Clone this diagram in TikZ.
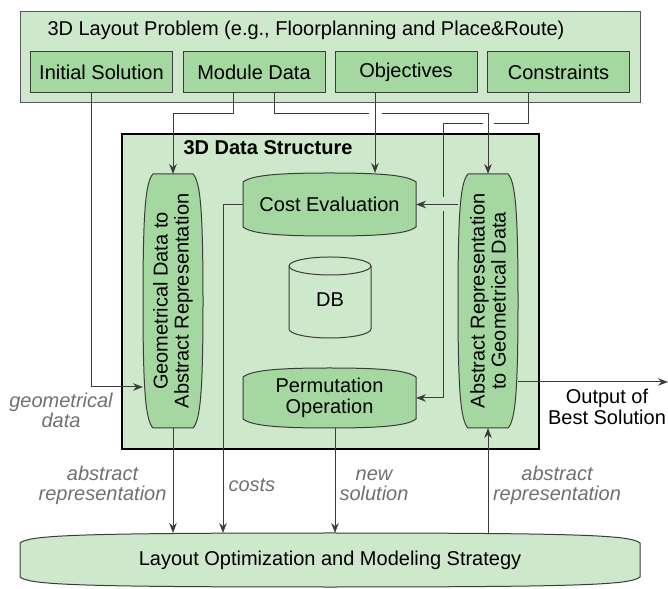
\documentclass[tikz,border=0pt]{standalone}
\usepackage{fontspec}
\setmainfont{Liberation Sans}
\usetikzlibrary{arrows.meta,calc}

\definecolor{pale}{HTML}{CDE8CA}
\definecolor{leaf}{HTML}{A4D8A0}
\definecolor{edge}{HTML}{3C3C3C}
\definecolor{labelgray}{HTML}{707070}

% drum, bulging top and bottom: [style]{node}{near ctrl}{far ctrl}{bulge}
\newcommand{\drumh}[5][greenshape]{%
  \path[#1] ([yshift=-#5]#2.north west)
    .. controls ($(#2.north west)!#3!(#2.north east)+(0,-0.25*#5)$) and ($(#2.north west)!#4!(#2.north east)$) .. (#2.north)
    .. controls ($(#2.north east)!#4!(#2.north west)$) and ($(#2.north east)!#3!(#2.north west)+(0,-0.25*#5)$) .. ([yshift=-#5]#2.north east)
    -- ([yshift=#5]#2.south east)
    .. controls ($(#2.south east)!#3!(#2.south west)+(0,0.25*#5)$) and ($(#2.south east)!#4!(#2.south west)$) .. (#2.south)
    .. controls ($(#2.south west)!#4!(#2.south east)$) and ($(#2.south west)!#3!(#2.south east)+(0,0.25*#5)$) .. ([yshift=#5]#2.south west) -- cycle;}
% drum, bulging sides
\newcommand{\drumv}[5][greenshape]{%
  \path[#1] ([xshift=#5]#2.north west)
    .. controls ($(#2.north west)!#3!(#2.south west)+(0.25*#5,0)$) and ($(#2.north west)!#4!(#2.south west)$) .. (#2.west)
    .. controls ($(#2.south west)!#4!(#2.north west)$) and ($(#2.south west)!#3!(#2.north west)+(0.25*#5,0)$) .. ([xshift=#5]#2.south west)
    -- ([xshift=-#5]#2.south east)
    .. controls ($(#2.south east)!#3!(#2.north east)+(-0.25*#5,0)$) and ($(#2.south east)!#4!(#2.north east)$) .. (#2.east)
    .. controls ($(#2.north east)!#4!(#2.south east)$) and ($(#2.north east)!#3!(#2.south east)+(-0.25*#5,0)$) .. ([xshift=-#5]#2.north east) -- cycle;}

\begin{document}
\begin{tikzpicture}[x=1pt,y=1pt,line width=1pt,
font=\fontsize{20}{21}\selectfont,
hold/.style={inner sep=0,outer sep=0,draw=none},
panel/.style={fill=pale,draw=edge!85},
item/.style={fill=leaf,draw=edge,minimum width=142,minimum height=41,inner sep=0},
frame/.style={fill=pale,draw=black,line width=2.5pt},
greenshape/.style={fill=leaf,draw=edge},
paleshape/.style={fill=pale,draw=edge},
txt/.style={inner sep=0,align=center},
remark/.style={txt,text=labelgray,font=\fontsize{20}{20}\selectfont\itshape},
wire/.style={draw=edge},
conn/.style={wire,-{Stealth[length=10pt,width=7.5pt]}},
]
\useasboundingbox (0,0) rectangle (668,588);

% layout problem
\node[hold,panel,minimum width=620,minimum height=91,anchor=north west] (prob) at (20,576) {};
\node[txt,anchor=base west] (probtitle) at (47,552) {3D Layout Problem (e.g., Floorplanning and Place\&Route)};
\node[item] (init) at (101.5,515.5) {Initial Solution};
\node[item] (mod) at (254,515.5) {Module Data};
\node[item] (obj) at (406,515.5) {Objectives};
\node[item] (con) at (558.5,515.5) {Constraints};

% data structure
\node[hold,frame,minimum width=417,minimum height=315] (ds) at (330.5,296.5) {};
\node[txt,anchor=base west,font=\fontsize{20}{21}\selectfont\bfseries] (dstitle) at (183,433) {3D Data Structure};

\node[hold,minimum width=173,minimum height=63] (cost) at (329.5,383.5) {};
\drumh{cost}{0.05}{0.2}{9}
\node[txt] (costtext) at (cost) {Cost Evaluation};

\node[hold,minimum width=173,minimum height=60] (perm) at (329.5,190) {};
\drumh{perm}{0.05}{0.2}{9}
\node[txt] (permtext) at (perm) {Permutation\\Operation};

\node[hold,minimum width=82,minimum height=81] (db) at (330,290.5) {};
\path[paleshape] ([yshift=-9]db.north west) -- ([yshift=9]db.south west)
  arc[start angle=180,end angle=360,x radius=41,y radius=9]
  -- ([yshift=-9]db.north east) arc[start angle=0,end angle=180,x radius=41,y radius=9] -- cycle;
\draw[wire] ([yshift=-9]db.north west) arc[start angle=180,end angle=360,x radius=41,y radius=9];
\node[txt] (dbtext) at ([yshift=-2.5]db.center) {DB};

\node[hold,minimum width=60,minimum height=254] (geo) at (173,287) {};
\drumv{geo}{0.03}{0.15}{10}
\node[txt,rotate=90] (geotext) at (geo) {Geometrical Data to\\Abstract Representation};

\node[hold,minimum width=60,minimum height=254] (a2g) at (488,287) {};
\drumv{a2g}{0.03}{0.15}{10}
\node[txt,rotate=90] (a2gtext) at (a2g) {Abstract Representation\\to Geometrical Data};

% strategy
\node[hold,minimum width=620,minimum height=54] (strat) at (330,28) {};
\drumh[paleshape]{strat}{0.015}{0.08}{10}
\node[txt] (strattext) at (strat) {Layout Optimization and Modeling Strategy};

% connectors
\coordinate (busA) at (0,474);
\coordinate (busB) at (0,464);
\coordinate (riser) at (443,0);
\coordinate (outpt) at (668,206);
\coordinate (objx) at ([xshift=-31]obj.south);

\draw[conn] ([xshift=-10.5]init.south) |- ([yshift=-86]geo.west);
\draw[conn] ([xshift=-21]mod.south) |- (geo.north |- busA) -- (geo.north);
\draw[wire] ([xshift=20]mod.south) |- ([xshift=-6.5]objx |- busA);
\draw[conn] ([xshift=6.5]objx |- busA) -| (a2g.north);
\draw[conn] (objx) -- (objx |- cost.north);
\draw[wire] ([xshift=-30.5]con.south) |- ([xshift=5.5]a2g.north |- busB);
\draw[wire] ([xshift=-5.5]a2g.north |- busB) -| ([yshift=7]riser |- cost.east);
\draw[conn] ([yshift=-7]riser |- cost.east) |- (perm.east);
\draw[conn] (a2g.west |- cost.east) -- (cost.east);
\draw[conn] (cost.west) -| ([xshift=-107]strat.north);
\draw[conn] ([xshift=5.5]perm.south) -- ([xshift=5.5]perm.south |- strat.north);
\draw[conn] (geo.south) -- (geo.south |- strat.north);
\draw[conn] (a2g.south |- strat.north) -- (a2g.south);
\draw[conn] (a2g.east |- outpt) -- (outpt);

% labels
\node[remark] (lblgeo) at (61,178) {geometrical\\data};
\node[remark,anchor=east] (lblabsl) at (167,103) {abstract\\representation};
\node[remark,anchor=west] (lblcost) at (228,103) {costs};
\node[remark] (lblnew) at (374,103) {new\\solution};
\node[remark] (lblabsr) at (557,103) {abstract\\representation};
\node[txt] (lblout) at (607,181) {Output of\\Best Solution};
\end{tikzpicture}
\end{document}
